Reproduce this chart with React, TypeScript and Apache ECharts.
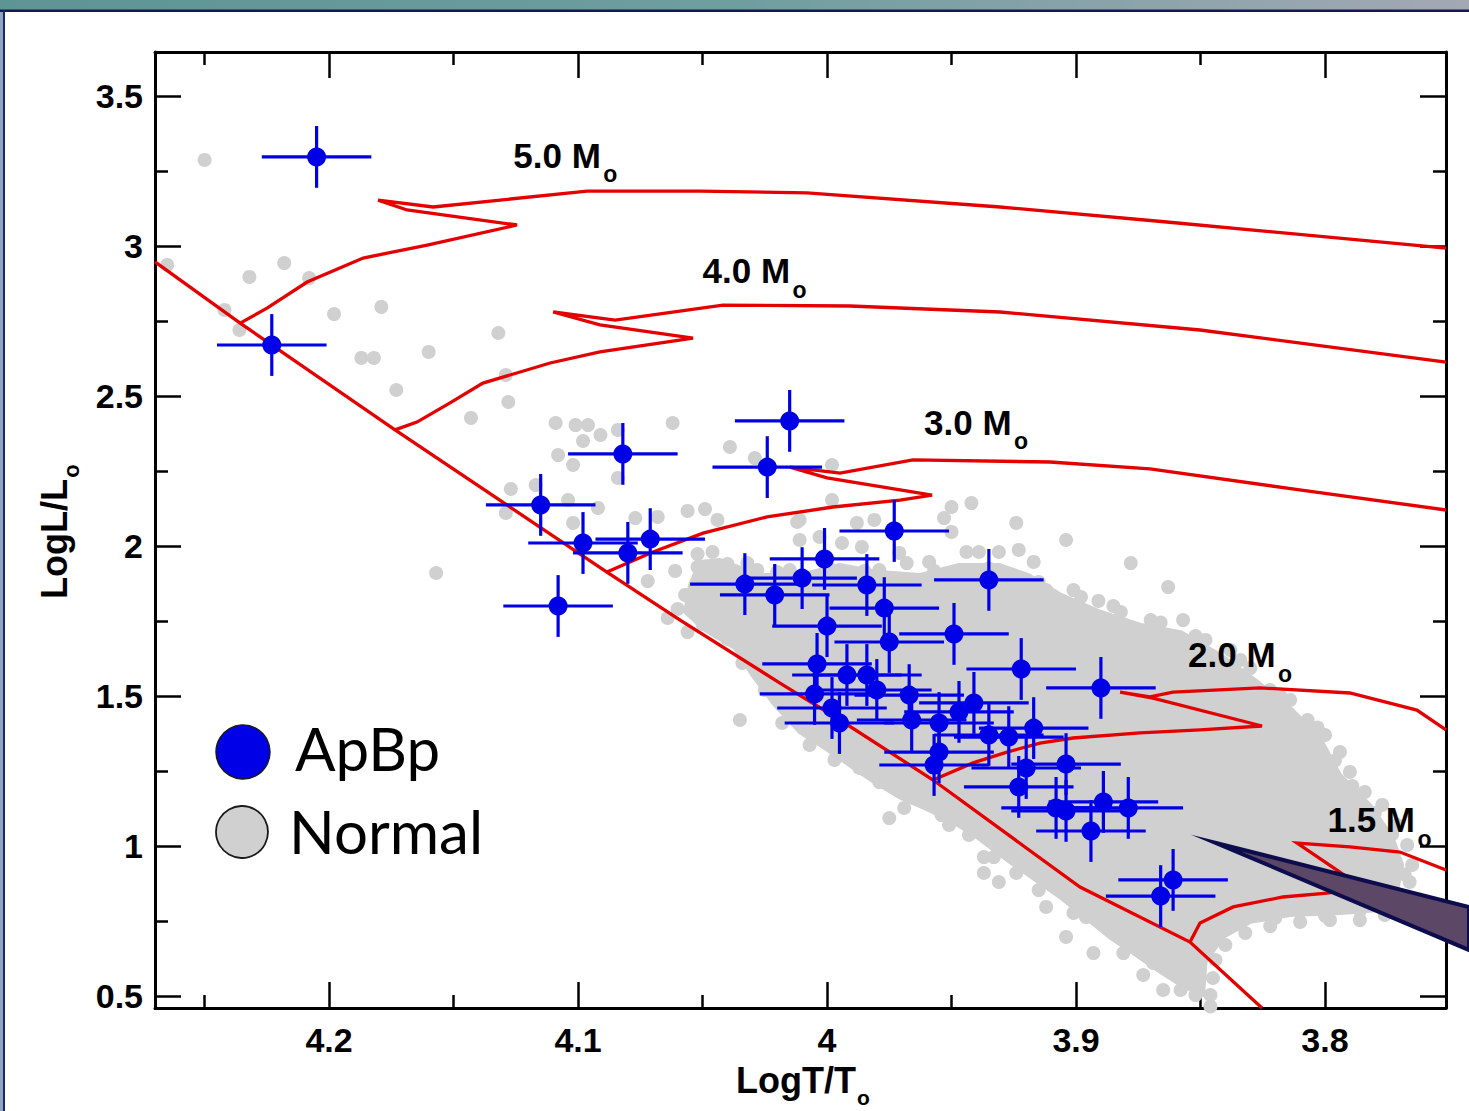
import React, { useEffect, useRef } from "react";
import * as echarts from "echarts";

// ---------- axis ticks ----------
const X_MAJOR = [3.8, 3.9, 4.0, 4.1, 4.2];
const X_MINOR = [3.75, 3.85, 3.95, 4.05, 4.15, 4.25];
const Y_MAJOR = [0.5, 1, 1.5, 2, 2.5, 3, 3.5];
const Y_MINOR = [0.75, 1.25, 1.75, 2.25, 2.75, 3.25];
const X_MIN = 3.7514;
const X_MAX = 4.2699;
const Y_MIN = 0.46;
const Y_MAX = 3.6467;

// ---------- ApBp stars (log Teff, log L) ----------
const AP_T = [4.205, 4.223, 4.115, 4.082, 4.098, 4.080, 4.071, 4.108, 4.015, 4.024, 3.973, 4.001, 4.033, 4.021, 4.010, 3.984, 3.977, 4.000, 3.975, 3.949, 3.935, 4.004, 3.992, 3.984, 3.980, 4.005, 3.998, 3.995, 3.967, 3.966, 3.955, 3.941, 3.947, 3.922, 3.935, 3.927, 3.917, 3.955, 3.957, 3.920, 3.923, 3.904, 3.890, 3.908, 3.904, 3.889, 3.879, 3.894, 3.861, 3.866];
const AP_L = [3.297, 2.670, 2.137, 2.307, 2.010, 1.977, 2.023, 1.800, 2.417, 2.263, 2.050, 1.957, 1.873, 1.837, 1.893, 1.870, 1.793, 1.733, 1.680, 1.707, 1.887, 1.607, 1.570, 1.570, 1.520, 1.507, 1.460, 1.410, 1.503, 1.420, 1.410, 1.477, 1.447, 1.590, 1.370, 1.363, 1.393, 1.313, 1.270, 1.260, 1.197, 1.273, 1.527, 1.127, 1.117, 1.147, 1.127, 1.050, 0.887, 0.833];
const ERR_T = 0.022;
const ERR_L = 0.103;

// ---------- Normal stars: individually visible ones ----------
const NORMAL_STARS: [number, number][] = [
  [4.250, 3.287], [4.265, 2.937], [4.232, 2.897], [4.218, 2.943], [4.208, 2.893], [4.242, 2.787], [4.236, 2.720], [4.198, 2.773], [4.179, 2.797], [4.187, 2.627],
  [4.182, 2.627], [4.160, 2.647], [4.173, 2.520], [4.132, 2.710], [4.129, 2.570], [4.128, 2.480], [4.143, 2.427], [4.157, 1.910], [4.127, 2.190], [4.117, 2.203],
  [4.109, 2.410], [4.101, 2.403], [4.096, 2.403], [4.091, 2.370], [4.098, 2.350], [4.084, 2.387], [4.062, 2.410], [4.108, 2.303], [4.102, 2.270], [4.084, 2.227],
  [4.039, 2.330], [4.029, 2.293], [4.129, 2.110], [4.104, 2.153], [4.092, 2.127], [4.102, 2.077], [4.077, 2.093], [4.068, 2.097], [4.056, 2.117], [4.049, 2.123],
  [4.072, 1.883], [4.061, 1.917], [4.052, 1.973], [4.046, 1.980], [4.052, 1.930], [4.044, 1.930], [4.046, 1.897], [4.057, 1.837], [4.064, 1.760], [4.056, 1.713],
  [4.038, 1.730], [4.033, 1.730], [4.036, 1.677], [4.030, 1.820], [4.032, 1.943],
  [3.998, 2.270], [4.044, 2.087], [3.998, 2.153], [4.011, 2.087], [3.988, 2.077], [3.981, 2.087], [3.950, 2.130], [3.942, 2.143], [3.953, 2.093], [3.950, 2.047],
  [4.003, 2.030], [3.994, 2.010], [3.986, 1.997], [3.968, 1.943], [3.959, 1.947], [3.944, 1.980], [3.939, 1.980], [3.931, 1.980], [3.923, 1.987], [3.917, 1.947],
  [3.904, 2.020], [3.878, 1.943], [3.863, 1.863], [3.891, 1.817], [4.012, 2.080], [4.011, 2.020], [3.924, 2.077], [3.971, 1.977],
  [4.028, 1.920], [4.015, 1.920], [3.998, 1.920], [3.979, 1.920], [3.920, 1.877], [3.912, 1.853], [3.901, 1.853],
  [3.882, 1.780], [3.870, 1.753], [3.857, 1.753], [3.848, 1.687], [3.838, 1.653], [3.830, 1.593], [3.822, 1.520], [3.814, 1.487], [3.807, 1.420], [3.800, 1.370],
  [3.794, 1.313], [3.790, 1.247], [3.784, 1.180], [3.777, 1.137], [3.771, 1.070], [3.767, 1.003], [3.765, 0.937], [3.766, 0.880], [3.771, 0.820], [3.776, 0.770],
  [3.786, 0.753], [3.798, 0.753], [3.810, 0.747], [3.822, 0.733], [3.832, 0.710], [3.840, 0.670], [3.844, 0.620], [3.845, 0.560], [3.846, 0.503], [3.846, 0.465],
  [3.975, 1.093], [3.969, 1.127], [3.954, 1.103], [3.951, 1.070], [3.943, 1.037], [3.937, 0.963], [3.933, 0.963], [3.937, 0.910], [3.931, 0.880], [3.924, 0.910],
  [3.915, 0.853], [3.912, 0.797], [3.904, 0.697], [3.901, 0.777], [3.896, 0.763], [3.893, 0.643], [3.881, 0.643], [3.873, 0.570], [3.865, 0.520], [3.858, 0.520],
  [3.852, 0.503], [4.035, 1.420], [4.018, 1.410], [3.979, 1.213], [3.987, 1.260], [4.007, 1.337], [3.997, 1.287],
  [4.025, 1.520], [4.016, 1.450], [4.005, 1.385], [3.994, 1.320], [3.985, 1.255], [3.965, 1.160], [3.957, 1.140], [3.946, 1.100], [3.927, 0.990], [3.920, 0.935],
  [3.908, 0.865], [3.898, 0.812], [3.888, 0.735], [3.878, 0.675], [3.869, 0.610], [3.861, 0.575], [3.852, 0.545],
  [3.800, 0.768], [3.820, 0.760], [3.786, 0.785], [3.768, 0.905], [3.773, 1.040], [3.780, 1.110], [3.789, 1.200], [3.796, 1.285], [3.803, 1.395], [3.818, 1.500],
  [3.834, 1.620], [3.852, 1.700], [3.866, 1.745], [3.885, 1.800], [3.898, 1.830], [3.915, 1.880], [3.935, 1.925], [3.957, 1.917], [3.985, 1.917], [4.020, 1.913],
  [4.040, 1.940], [4.053, 1.860], [4.060, 1.790], [4.050, 1.740], [4.040, 1.690], [4.034, 1.610],
];

// ---------- Normal stars: outline of the dense, overlapping core ----------
const NORMAL_CORE: [number, number][] = [
  [4.055, 1.870], [4.051, 1.947], [4.043, 1.953], [4.027, 1.903], [4.011, 1.903], [3.995, 1.937], [3.979, 1.913], [3.963, 1.903], [3.947, 1.937], [3.931, 1.937],
  [3.919, 1.903], [3.906, 1.837], [3.890, 1.780], [3.874, 1.737], [3.858, 1.713], [3.842, 1.637], [3.828, 1.553], [3.814, 1.460], [3.802, 1.360], [3.794, 1.237],
  [3.782, 1.137], [3.773, 1.030], [3.769, 0.937], [3.771, 0.853], [3.778, 0.787], [3.794, 0.777], [3.814, 0.770], [3.830, 0.747], [3.841, 0.697], [3.848, 0.613],
  [3.849, 0.503], [3.858, 0.537], [3.866, 0.580], [3.876, 0.637], [3.886, 0.693], [3.896, 0.760], [3.906, 0.827], [3.915, 0.880], [3.925, 0.937], [3.933, 0.987],
  [3.941, 1.037], [3.951, 1.087], [3.961, 1.127], [3.971, 1.163], [3.981, 1.213], [3.991, 1.270], [4.001, 1.327], [4.011, 1.380], [4.021, 1.470], [4.030, 1.570],
  [4.037, 1.660], [4.049, 1.720], [4.057, 1.780],
];

// ---------- ZAMS and evolutionary tracks ----------
const ZAMS: [number, number][] = [[4.2699, 2.947], [4.2357, 2.743], [4.1735, 2.387], [4.0884, 1.913], [4.059, 1.753], [4.0189, 1.543], [3.9948, 1.42], [3.9574, 1.22], [3.8984, 0.863], [3.8542, 0.68], [3.8253, 0.46]];
const TRACK_50: [number, number][] = [[4.2357, 2.743], [4.2249, 2.793], [4.2088, 2.88], [4.1863, 2.96], [4.1606, 3.003], [4.1245, 3.07], [4.1687, 3.12], [4.1803, 3.153], [4.1582, 3.13], [4.0964, 3.183], [4.051, 3.183], [4.008, 3.177], [3.9305, 3.13], [3.8635, 3.08], [3.7514, 2.993]];
const TRACK_40: [number, number][] = [[4.1735, 2.387], [4.1647, 2.413], [4.1514, 2.477], [4.1382, 2.543], [4.1112, 2.61], [4.0912, 2.647], [4.0538, 2.693], [4.0912, 2.737], [4.11, 2.78], [4.0851, 2.753], [4.0418, 2.803], [3.9908, 2.8], [3.9305, 2.78], [3.8502, 2.72], [3.7514, 2.613]];
const TRACK_30: [number, number][] = [[4.0884, 1.913], [4.0699, 1.98], [4.0498, 2.043], [4.0241, 2.097], [3.9976, 2.13], [3.9707, 2.153], [3.9578, 2.17], [4.0, 2.227], [4.0149, 2.263], [3.9948, 2.243], [3.9655, 2.287], [3.9104, 2.28], [3.8703, 2.257], [3.8102, 2.187], [3.7514, 2.12]];
const TRACK_20: [number, number][] = [[3.9574, 1.22], [3.9414, 1.277], [3.9277, 1.313], [3.9145, 1.343], [3.9012, 1.36], [3.8743, 1.377], [3.8502, 1.387], [3.8253, 1.40], [3.8691, 1.493], [3.8823, 1.513], [3.8703, 1.497], [3.861, 1.513], [3.8261, 1.527], [3.79, 1.51], [3.7631, 1.453], [3.7514, 1.387]];
const TRACK_15: [number, number][] = [[3.8542, 0.68], [3.8502, 0.743], [3.8369, 0.797], [3.8169, 0.83], [3.7992, 0.843], [3.7851, 0.86], [3.794, 0.913], [3.8112, 1.01], [3.79, 0.997], [3.7699, 0.98], [3.7514, 0.92]];

const TRACK_LABELS = ["5.0 M", "4.0 M", "3.0 M", "2.0 M", "1.5 M"];
const TRACK_LABEL_ANCHORS: [number, number][] = [[4.126, 3.303], [4.050, 2.918], [3.961, 2.412], [3.855, 1.637], [3.799, 1.088]];

const LEGEND_NAMES = ["ApBp", "Normal"];

const BLUE = "#0000e6";
const RED = "#e50000";
const GRAY = "#d0d0d0";
const FONT = "'Liberation Sans', Arial, Helvetica, sans-serif";

function xAxisCfg(position: "top" | "bottom", values: number[], len: number, showLine: boolean, showLabel: boolean) {
  return {
    type: "value",
    position,
    min: X_MIN,
    max: X_MAX,
    inverse: true,
    axisLine: { show: showLine, onZero: false, lineStyle: { color: "#000", width: 3 } },
    axisTick: { show: true, inside: true, length: len, customValues: values, lineStyle: { color: "#000", width: 2.5 } },
    axisLabel: {
      show: showLabel,
      customValues: values,
      margin: 15,
      color: "#000",
      fontFamily: FONT,
      fontWeight: "bold",
      fontSize: 34,
      formatter: (v: number) => String(Math.round(v * 10) / 10),
    },
    splitLine: { show: false },
  };
}

function yAxisCfg(position: "left" | "right", values: number[], len: number, showLine: boolean, showLabel: boolean) {
  return {
    type: "value",
    position,
    min: Y_MIN,
    max: Y_MAX,
    axisLine: { show: showLine, onZero: false, lineStyle: { color: "#000", width: 3 } },
    axisTick: { show: true, inside: true, length: len, customValues: values, lineStyle: { color: "#000", width: 2.5 } },
    axisLabel: {
      show: showLabel,
      customValues: values,
      margin: 12,
      color: "#000",
      fontFamily: FONT,
      fontWeight: "bold",
      fontSize: 34,
      formatter: (v: number) => String(Math.round(v * 10) / 10),
    },
    splitLine: { show: false },
  };
}

function trackSeries(name: string, data: [number, number][]) {
  return {
    name,
    type: "line",
    data,
    showSymbol: false,
    symbol: "none",
    clip: true,
    silent: true,
    z: 3,
    lineStyle: { color: RED, width: 3.3, opacity: 1, join: "miter" },
  };
}

export default function App() {
  const ref = useRef<HTMLDivElement>(null);

  useEffect(() => {
    if (!ref.current) return;
    const chart = echarts.init(ref.current, null, { renderer: "svg" });

    const option: any = {
      animation: false,
      backgroundColor: "#ffffff",
      grid: { left: 155, right: 23, top: 52, bottom: 103, containLabel: false },
      xAxis: [
        xAxisCfg("bottom", X_MAJOR, 26, true, true),
        xAxisCfg("bottom", X_MINOR, 13, false, false),
        xAxisCfg("top", X_MAJOR, 26, true, false),
        xAxisCfg("top", X_MINOR, 13, false, false),
      ],
      yAxis: [
        yAxisCfg("left", Y_MAJOR, 26, true, true),
        yAxisCfg("left", Y_MINOR, 13, false, false),
        yAxisCfg("right", Y_MAJOR, 26, true, false),
        yAxisCfg("right", Y_MINOR, 13, false, false),
      ],
      series: [
        {
          name: "Normal core",
          type: "custom",
          coordinateSystem: "cartesian2d",
          silent: true,
          z: 1,
          data: [[3.9, 1.2]],
          renderItem: (_p: any, api: any) => ({
            type: "polygon",
            shape: { points: NORMAL_CORE.map((pt) => api.coord(pt)) },
            style: { fill: GRAY, stroke: GRAY, lineWidth: 4, lineJoin: "round" },
          }),
        },
        {
          name: "Normal",
          type: "scatter",
          data: NORMAL_STARS,
          symbol: "circle",
          symbolSize: 14,
          silent: true,
          z: 1,
          itemStyle: { color: GRAY, opacity: 1 },
        },
        trackSeries("ZAMS", ZAMS),
        trackSeries("5.0", TRACK_50),
        trackSeries("4.0", TRACK_40),
        trackSeries("3.0", TRACK_30),
        trackSeries("2.0", TRACK_20),
        trackSeries("1.5", TRACK_15),
        {
          name: "ApBp errors",
          type: "custom",
          coordinateSystem: "cartesian2d",
          silent: true,
          z: 4,
          data: AP_T.map((t, i) => [t, AP_L[i]]),
          renderItem: (_p: any, api: any) => {
            const t = api.value(0);
            const l = api.value(1);
            const a = api.coord([t + ERR_T, l]);
            const b = api.coord([t - ERR_T, l]);
            const c = api.coord([t, l + ERR_L]);
            const d = api.coord([t, l - ERR_L]);
            return {
              type: "group",
              children: [
                { type: "line", shape: { x1: a[0], y1: a[1], x2: b[0], y2: b[1] }, style: { stroke: BLUE, lineWidth: 3.2 } },
                { type: "line", shape: { x1: c[0], y1: c[1], x2: d[0], y2: d[1] }, style: { stroke: BLUE, lineWidth: 3.2 } },
              ],
            };
          },
        },
        {
          name: "ApBp",
          type: "scatter",
          data: AP_T.map((t, i) => [t, AP_L[i]]),
          symbol: "circle",
          symbolSize: 19,
          silent: true,
          z: 5,
          itemStyle: { color: BLUE, opacity: 1 },
        },
        {
          name: "Track labels",
          type: "custom",
          coordinateSystem: "cartesian2d",
          silent: true,
          z: 6,
          data: TRACK_LABEL_ANCHORS.map((p, i) => [p[0], p[1], i]),
          renderItem: (_p: any, api: any) => {
            const pt = api.coord([api.value(0), api.value(1)]);
            const idx = api.value(2);
            return {
              type: "group",
              children: [
                {
                  type: "text",
                  x: pt[0],
                  y: pt[1],
                  style: { text: TRACK_LABELS[idx], font: `bold 35px ${FONT}`, fill: "#000", align: "left", verticalAlign: "middle" },
                },
                {
                  type: "text",
                  x: pt[0] + 90,
                  y: pt[1] + 19,
                  style: { text: "o", font: `bold 23px ${FONT}`, fill: "#000", align: "left", verticalAlign: "middle" },
                },
              ],
            };
          },
        },
      ],
      graphic: [
        // slide frame
        {
          type: "rect",
          z: 100,
          shape: { x: 0, y: 0, width: 1469, height: 10 },
          style: {
            fill: new echarts.graphic.LinearGradient(0, 0, 1, 0, [
              { offset: 0, color: "#5d9494" },
              { offset: 0.5, color: "#6f9e9f" },
              { offset: 1, color: "#a3a8b3" },
            ]),
          },
        },
        { type: "rect", z: 101, shape: { x: 0, y: 9.5, width: 1469, height: 2.5 }, style: { fill: "#16165a" } },
        { type: "rect", z: 100, shape: { x: 0, y: 10, width: 3, height: 1101 }, style: { fill: "#8fa4c2" } },
        { type: "rect", z: 101, shape: { x: 3, y: 10, width: 2, height: 1101 }, style: { fill: "#1a2868" } },
        // axis titles
        { type: "text", z: 100, x: 736, y: 1080, style: { text: "LogT/T", font: `bold 36px ${FONT}`, fill: "#000", align: "left", verticalAlign: "middle" } },
        { type: "text", z: 100, x: 857, y: 1097, style: { text: "o", font: `bold 21px ${FONT}`, fill: "#000", align: "left", verticalAlign: "middle" } },
        { type: "text", z: 100, x: 54, y: 539, rotation: Math.PI / 2, style: { text: "LogL/L", font: `bold 36px ${FONT}`, fill: "#000", align: "center", verticalAlign: "middle" } },
        { type: "text", z: 100, x: 71, y: 471, rotation: Math.PI / 2, style: { text: "o", font: `bold 22px ${FONT}`, fill: "#000", align: "center", verticalAlign: "middle" } },
        // legend
        { type: "circle", z: 100, shape: { cx: 243, cy: 752, r: 27 }, style: { fill: BLUE, stroke: "#1a1a1a", lineWidth: 1.5 } },
        { type: "circle", z: 100, shape: { cx: 242, cy: 832, r: 26 }, style: { fill: GRAY, stroke: "#1a1a1a", lineWidth: 1.8 } },
        { type: "text", z: 100, x: 295, y: 748, style: { text: LEGEND_NAMES[0], font: "60px Lato, 'Open Sans', sans-serif", fill: "#000", align: "left", verticalAlign: "middle" } },
        { type: "text", z: 100, x: 289, y: 831, style: { text: LEGEND_NAMES[1], font: "60px Lato, 'Open Sans', sans-serif", fill: "#000", align: "left", verticalAlign: "middle" } },
        // pointer wedge
        {
          type: "polygon",
          z: 120,
          shape: { points: [[1216, 843], [1469, 907], [1469, 950]] },
          style: { fill: "#5c4866", stroke: "#0d0d4d", lineWidth: 4, lineJoin: "miter", miterLimit: 20 },
        },
      ],
    };

    chart.setOption(option);
    return () => chart.dispose();
  }, []);

  return (
    <div
      ref={ref}
      style={{ position: "fixed", left: 0, top: 0, width: 1469, height: 1111, background: "#ffffff" }}
    />
  );
}
